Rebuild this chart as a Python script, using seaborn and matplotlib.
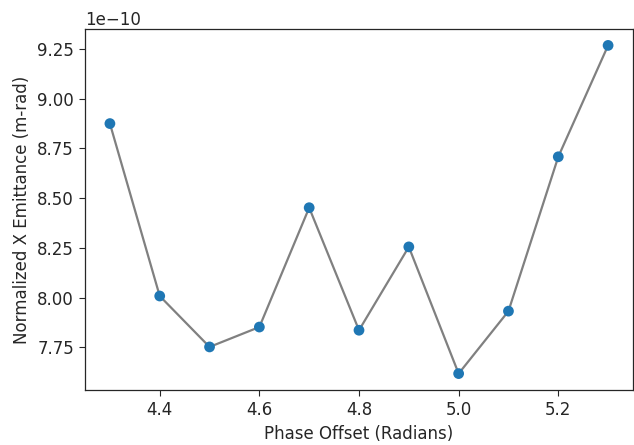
import matplotlib
matplotlib.use("Agg")
import matplotlib.pyplot as plt
import seaborn as sns
import pandas as pd

phase_offset = [4.3, 4.4, 4.5, 4.6, 4.7, 4.8, 4.9, 5.0, 5.1, 5.2, 5.3]
emittance = [8.875e-10, 8.008e-10, 7.752e-10, 7.852e-10, 8.452e-10, 7.836e-10,
             8.255e-10, 7.618e-10, 7.932e-10, 8.708e-10, 9.268e-10]

df = pd.DataFrame({"phase": phase_offset, "emit": emittance})

sns.set_style("ticks")
plt.rcParams['font.family'] = ['DejaVu Sans']

fig = plt.figure(figsize=(6.34, 4.45), dpi=100)
ax = fig.add_axes([85/634, 1 - 390/445, (633 - 85)/634, (390 - 29)/445])

sns.lineplot(data=df, x="phase", y="emit", color="gray", linewidth=1.6, ax=ax, zorder=1)
sns.scatterplot(data=df, x="phase", y="emit", color="#1f77b4", s=60, edgecolor="none", ax=ax, zorder=2)

ax.set_xlabel("Phase Offset (Radians)", fontsize=12, color="#262626")
ax.set_ylabel("Normalized X Emittance (m-rad)", fontsize=12, color="#262626")
ax.set_xticks([4.4, 4.6, 4.8, 5.0, 5.2])
ax.set_yticks([7.75e-10, 8.0e-10, 8.25e-10, 8.5e-10, 8.75e-10, 9.0e-10, 9.25e-10])
ax.tick_params(labelsize=12, length=4.5, width=0.8, colors="#262626")
ax.yaxis.get_offset_text().set_fontsize(12)
for s in ax.spines.values():
    s.set_visible(True)
    s.set_linewidth(0.9)
    s.set_color("#262626")

fig.savefig("out.png", dpi=100)
